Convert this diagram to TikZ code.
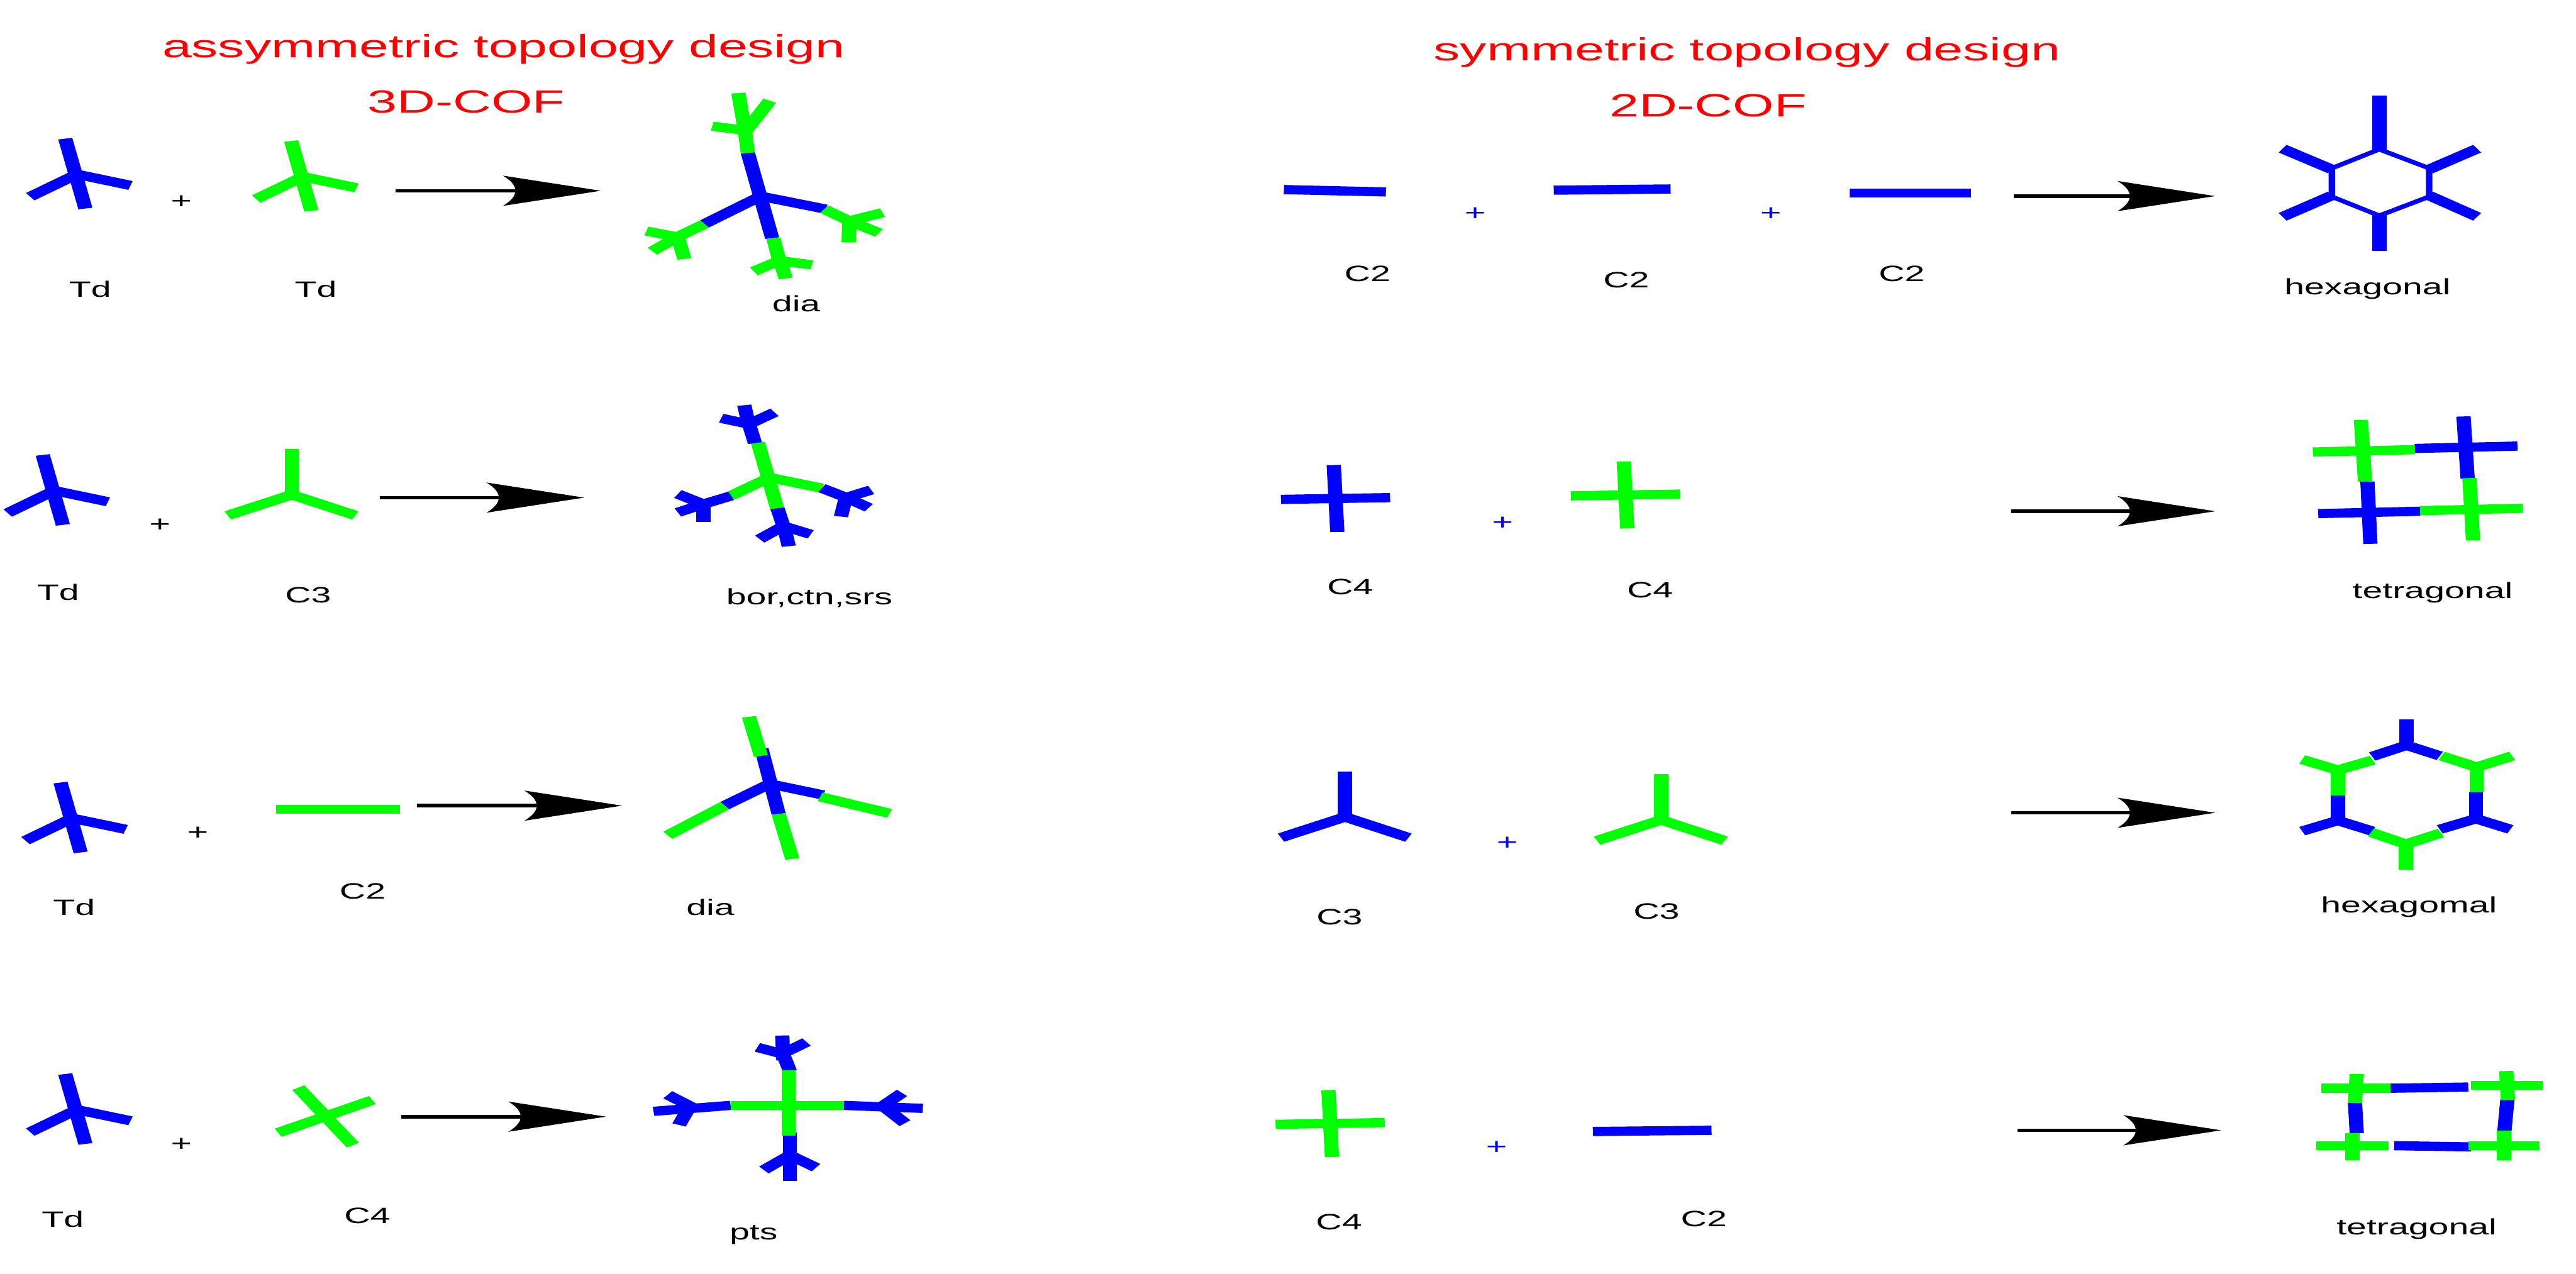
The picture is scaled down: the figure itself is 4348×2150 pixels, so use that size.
\documentclass[tikz,border=0pt]{standalone}
\usepackage{fontspec}
\setmainfont{Liberation Sans}
\usetikzlibrary{arrows.meta}
\definecolor{cofblue}{RGB}{0,0,255}
\definecolor{cofgreen}{RGB}{0,255,0}
\definecolor{cofred}{RGB}{255,0,0}
\pgfdeclarearrow{
  name=ConcaveHead,
  setup code={
    \pgfarrowssettipend{0pt}
    \pgfarrowssetlineend{-1.4cm}
    \pgfarrowssetbackend{-1.65cm}
    \pgfarrowssetvisualbackend{-1.45cm}
  },
  drawing code={
    \pgfpathmoveto{\pgfpoint{0pt}{0pt}}
    \pgfpathlineto{\pgfpoint{-1.65cm}{.255cm}}
    \pgfpathcurveto{\pgfpoint{-1.37cm}{.09cm}}{\pgfpoint{-1.37cm}{-.09cm}}{\pgfpoint{-1.65cm}{-.255cm}}
    \pgfpathclose
    \pgfusepathqfill
  },
  defaults={}
}
\newcommand{\sxl}[1]{\scalebox{1.62}[1]{#1}}
\newcommand{\sxt}[1]{\scalebox{1.65}[1]{#1}}
% bars, in reference pixels
\newcommand{\armseg}[5]{\draw[armbar,#1] (#2,#3) -- (#4,#5);}
\newcommand{\thinseg}[5]{\draw[hexbar,#1] (#2,#3) -- (#4,#5);}
\newcommand{\shTd}[3]{%
  \draw[armbar,#1] ({#2-18},{#3-62}) -- ({#2+16},{#3+56});
  \draw[armbar,#1] ({#2+4},{#3-3}) -- ({#2-77},{#3+36});
  \draw[armbar,#1] ({#2-4},{#3-3}) -- ({#2+92},{#3+17});}
\newcommand{\shCiii}[3]{%
  \draw[armbar,#1] (#2,{#3-77}) -- (#2,{#3+3});
  \draw[armbar,#1] (#2,#3) -- ({#2-108},{#3+35});
  \draw[armbar,#1] (#2,#3) -- ({#2+107},{#3+35});}
\newcommand{\shCiv}[3]{%
  \draw[armbar,#1] ({#2-3},{#3-57}) -- ({#2+3},{#3+56});
  \draw[armbar,#1] ({#2-92},{#3+1}) -- ({#2+92},{#3-2});}
% Y-shaped unit: stem end, junction, three arm ends
\newcommand{\shUnit}[9]{%
  \draw[armbar,#1] (#2,#3) -- (#4,#5);
  \draw[armbar,#1] (#4,#5) -- (#6,#7);
  \draw[armbar,#1] (#4,#5) -- (#8,#9);}
\tikzset{
  x=0.01cm,y=-0.01cm,
  armbar/.style={line width=0.155cm,line cap=butt},
  hexbar/.style={line width=0.07cm,line cap=butt},
  lab/.style={inner sep=0pt,font=\fontsize{10.67pt}{12pt}\selectfont,text=black},
  plusb/.style={lab,text=cofblue},
  ttl/.style={inner sep=0pt,font=\fontsize{15.4pt}{18pt}\selectfont,text=cofred},
  reaction/.style={line width=0.06cm,black,-{ConcaveHead}}
}
\begin{document}
\begin{tikzpicture}
\useasboundingbox (0,0) rectangle (4348,2150);
% titles
\node[ttl] (t1) at (850,83) {\sxt{assymmetric topology design}};
\node[ttl] (t2) at (787,172) {\sxt{3D-COF}};
\node[ttl] (t3) at (2949,88) {\sxt{symmetric topology design}};
\node[ttl] (t4) at (2883,178) {\sxt{2D-COF}};
% labels left
\node[lab] (l1a) at (152,488) {\sxl{Td}};
\node[lab] (l1b) at (533,488) {\sxl{Td}};
\node[lab] (l1c) at (1344,513) {\sxl{dia}};
\node[lab] (l2a) at (98,1000) {\sxl{Td}};
\node[lab] (l2b) at (520,1005) {\sxl{C3}};
\node[lab] (l2c) at (1366,1009) {\sxl{bor,ctn,srs}};
\node[lab] (l3a) at (125,1532) {\sxl{Td}};
\node[lab] (l3b) at (612,1504) {\sxl{C2}};
\node[lab] (l3c) at (1199,1532) {\sxl{dia}};
\node[lab] (l4a) at (106,2058) {\sxl{Td}};
\node[lab] (l4b) at (620,2052) {\sxl{C4}};
\node[lab] (l4c) at (1272,2084) {\sxl{pts}};
% labels right
\node[lab] (r1a) at (2308,462) {\sxl{C2}};
\node[lab] (r1b) at (2745,473) {\sxl{C2}};
\node[lab] (r1c) at (3210,462) {\sxl{C2}};
\node[lab] (r1d) at (3996,488) {\sxl{hexagonal}};
\node[lab] (r2a) at (2279,991) {\sxl{C4}};
\node[lab] (r2b) at (2785,996) {\sxl{C4}};
\node[lab] (r2c) at (4106,1000) {\sxl{tetragonal}};
\node[lab] (r3a) at (2261,1548) {\sxl{C3}};
\node[lab] (r3b) at (2796,1538) {\sxl{C3}};
\node[lab] (r3c) at (4066,1531) {\sxl{hexagomal}};
\node[lab] (r4a) at (2260,2063) {\sxl{C4}};
\node[lab] (r4b) at (2876,2058) {\sxl{C2}};
\node[lab] (r4c) at (4079,2075) {\sxl{tetragonal}};
% plus signs
\node[lab] (p1) at (306,341) {\sxl{+}};
\node[lab] (p2) at (270,887) {\sxl{+}};
\node[lab] (p3) at (334,1407) {\sxl{+}};
\node[lab] (p4) at (306,1932) {\sxl{+}};
\node[plusb] (p5) at (2490,361) {\sxl{+}};
\node[plusb] (p6) at (2989,361) {\sxl{+}};
\node[plusb] (p7) at (2536,883) {\sxl{+}};
\node[plusb] (p8) at (2544,1424) {\sxl{+}};
\node[plusb] (p9) at (2526,1938) {\sxl{+}};
% reaction arrows
\coordinate (a1s) at (668,322);   \coordinate (a1e) at (1014,322);
\coordinate (a2s) at (641,840);   \coordinate (a2e) at (986,840);
\coordinate (a3s) at (704,1360);  \coordinate (a3e) at (1050,1360);
\coordinate (a4s) at (677,1885);  \coordinate (a4e) at (1023,1885);
\coordinate (a5s) at (3399,331);  \coordinate (a5e) at (3739,331);
\coordinate (a6s) at (3395,863);  \coordinate (a6e) at (3739,863);
\coordinate (a7s) at (3395,1372); \coordinate (a7e) at (3739,1372);
\coordinate (a8s) at (3405,1908); \coordinate (a8e) at (3749,1908);
\foreach \i in {1,...,8} \draw[reaction] (a\i s) -- (a\i e);
% all bars: the reference is stretched horizontally, and so are its strokes
\begin{scope}[x=0.00645161cm,transform canvas={xscale=1.55}]
% --- left column, row 1
\shTd{cofblue}{128}{296}
\shTd{cofgreen}{509}{300}
\draw[armbar,cofblue] (1261,258) -- (1302,402);
\draw[armbar,cofblue] (1285,330) -- (1188,378);
\draw[armbar,cofblue] (1277,330) -- (1392,353);
\shUnit{cofgreen}{1261}{258}{1256}{220}{1245}{157}{1201}{213}
\armseg{cofgreen}{1256}{223}{1298}{170}
\shUnit{cofgreen}{1390}{353}{1432}{373}{1488}{359}{1482}{393}
\armseg{cofgreen}{1432}{370}{1431}{409}
\shUnit{cofgreen}{1188}{378}{1142}{400}{1090}{390}{1100}{424}
\armseg{cofgreen}{1142}{397}{1154}{437}
\shUnit{cofgreen}{1304}{402}{1314}{440}{1271}{458}{1369}{447}
\armseg{cofgreen}{1314}{437}{1325}{470}
% --- left column, row 2
\shTd{cofblue}{90}{830}
\shCiii{cofgreen}{492}{835}
\draw[armbar,cofgreen] (1278,747) -- (1311,860);
\draw[armbar,cofgreen] (1300,805) -- (1232,837);
\draw[armbar,cofgreen] (1292,805) -- (1386,824);
\shUnit{cofblue}{1273}{748}{1263}{716}{1216}{706}{1306}{696}
\armseg{cofblue}{1263}{719}{1255}{684}
\shUnit{cofblue}{1386}{824}{1427}{840}{1469}{827}{1465}{857}
\armseg{cofblue}{1427}{837}{1418}{872}
\shUnit{cofblue}{1233}{837}{1186}{851}{1143}{834}{1143}{865}
\armseg{cofblue}{1186}{848}{1186}{881}
\shUnit{cofblue}{1311}{858}{1321}{888}{1281}{910}{1367}{902}
\armseg{cofblue}{1321}{885}{1330}{922}
% --- left column, row 3
\shTd{cofblue}{120}{1383}
\armseg{cofgreen}{466}{1366}{674}{1366}
\draw[armbar,cofblue] (1284,1264) -- (1313,1374);
\draw[armbar,cofblue] (1300,1322) -- (1222,1360);
\draw[armbar,cofblue] (1292,1322) -- (1388,1342);
\armseg{cofgreen}{1263}{1210}{1283}{1276}
\armseg{cofgreen}{1313}{1374}{1336}{1450}
\armseg{cofgreen}{1222}{1360}{1126}{1410}
\armseg{cofgreen}{1383}{1345}{1500}{1373}
% --- left column, row 4
\shTd{cofblue}{128}{1875}
\armseg{cofgreen}{503}{1836}{595}{1933}
\armseg{cofgreen}{469}{1912}{628}{1857}
\armseg{cofblue}{1332}{1808}{1319}{1776}
\armseg{cofblue}{1319}{1748}{1321}{1790}
\armseg{cofblue}{1319}{1779}{1277}{1768}
\armseg{cofblue}{1319}{1779}{1360}{1759}
\armseg{cofblue}{1332}{1912}{1332}{1993}
\armseg{cofblue}{1332}{1950}{1288}{1975}
\armseg{cofblue}{1332}{1950}{1376}{1971}
\armseg{cofblue}{1232}{1866}{1102}{1876}
\armseg{cofblue}{1169}{1870}{1126}{1848}
\armseg{cofblue}{1163}{1868}{1145}{1899}
\armseg{cofblue}{1423}{1866}{1556}{1871}
\armseg{cofblue}{1484}{1870}{1521}{1845}
\armseg{cofblue}{1490}{1868}{1526}{1896}
\armseg{cofgreen}{1330}{1807}{1330}{1917}
\armseg{cofgreen}{1232}{1866}{1423}{1866}
% --- right column, row 1
\armseg{cofblue}{2165}{320}{2337}{324}
\armseg{cofblue}{2620}{321}{2817}{319}
\armseg{cofblue}{3119}{326}{3323}{326}
\armseg{cofblue}{4012}{161}{4012}{254}
\armseg{cofblue}{4012}{362}{4012}{424}
\armseg{cofblue}{3932}{286}{3849}{251}
\armseg{cofblue}{4096}{286}{4177}{251}
\armseg{cofblue}{3932}{330}{3849}{366}
\armseg{cofblue}{4096}{330}{4177}{366}
\draw[hexbar,cofblue,line join=miter] (4012,252) -- (4096,284) -- (4096,332) -- (4012,364) -- (3932,332) -- (3932,284) -- cycle;
% --- right column, row 2
\shCiv{cofblue}{2252}{842}
\shCiv{cofgreen}{2741}{836}
\armseg{cofgreen}{3900}{763}{4072}{759}
\armseg{cofgreen}{3981}{709}{3988}{813}
\armseg{cofblue}{4072}{757}{4245}{753}
\armseg{cofblue}{4154}{703}{4161}{808}
\armseg{cofblue}{3909}{867}{4081}{863}
\armseg{cofblue}{3992}{813}{3997}{918}
\armseg{cofgreen}{4081}{862}{4254}{858}
\armseg{cofgreen}{4164}{807}{4170}{912}
% --- right column, row 3
\shCiii{cofblue}{2268}{1379}
\shCiii{cofgreen}{2801}{1384}
\shUnit{cofblue}{4058}{1214}{4058}{1258}{4000}{1277}{4114}{1276}
\shUnit{cofgreen}{4176}{1338}{4176}{1295}{4117}{1276}{4236}{1276}
\shUnit{cofgreen}{3942}{1343}{3942}{1300}{3882}{1282}{4001}{1283}
\shUnit{cofblue}{3942}{1343}{3942}{1385}{3882}{1403}{4000}{1403}
\shUnit{cofblue}{4175}{1338}{4175}{1382}{4114}{1400}{4233}{1400}
\shUnit{cofgreen}{4057}{1468}{4057}{1425}{3998}{1405}{4116}{1406}
% --- right column, row 4
\shCiv{cofgreen}{2243}{1897}
\armseg{cofblue}{2686}{1910}{2886}{1908}
\armseg{cofblue}{4031}{1837}{4162}{1835}
\armseg{cofblue}{4037}{1934}{4167}{1936}
\armseg{cofblue}{3971}{1861}{3974}{1913}
\armseg{cofblue}{4228}{1856}{4223}{1909}
\armseg{cofgreen}{3914}{1837}{4031}{1837}
\armseg{cofgreen}{3974}{1813}{3971}{1862}
\armseg{cofgreen}{4167}{1832}{4288}{1832}
\armseg{cofgreen}{4226}{1808}{4229}{1857}
\armseg{cofgreen}{3906}{1934}{4028}{1934}
\armseg{cofgreen}{3967}{1913}{3967}{1959}
\armseg{cofgreen}{4162}{1934}{4282}{1934}
\armseg{cofgreen}{4222}{1909}{4222}{1959}
\end{scope}
\end{tikzpicture}
\end{document}
